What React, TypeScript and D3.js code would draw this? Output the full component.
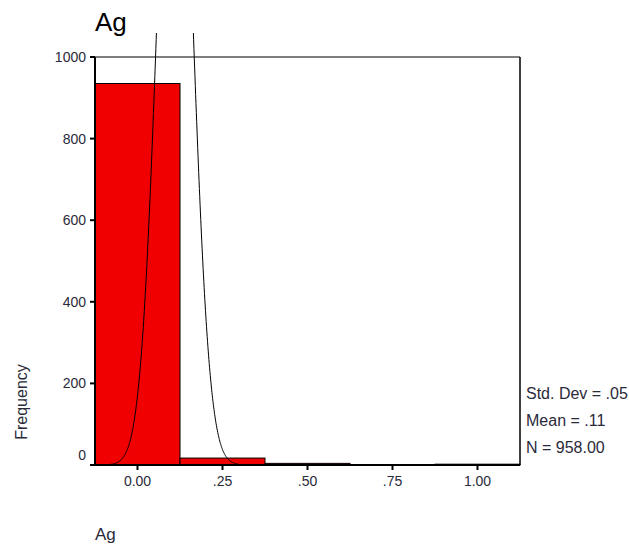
import React from "react";
import * as d3 from "d3";

// Histogram of Ag with fitted normal curve
const binCenters = [0, 0.25, 0.5, 0.75, 1.0];
const binCounts = [935, 17, 4, 0, 2];
const binWidth = 0.25;
const yTicks = [0, 200, 400, 600, 800, 1000];
const xTicks = [0, 0.25, 0.5, 0.75, 1.0];
const xTickLabels = ["0.00", ".25", ".50", ".75", "1.00"];
const stdDev = 0.05;
const mean = 0.11;
const nTotal = 958;
const statLines = ["Std. Dev = .05", "Mean = .11", "N = 958.00"];

const W = 629;
const H = 550;
const plot = { left: 95, right: 520, top: 57, bottom: 465 };

export default function App() {
  const x = d3.scaleLinear().domain([-0.125, 1.125]).range([plot.left, plot.right]);
  const y = d3.scaleLinear().domain([0, 1000]).range([plot.bottom, plot.top]);

  const peak = (nTotal * binWidth) / (stdDev * Math.sqrt(2 * Math.PI));
  const curvePts: [number, number][] = d3
    .range(-0.125, 1.1251, 0.001)
    .map((v) => [v, peak * Math.exp(-0.5 * ((v - mean) / stdDev) ** 2)]);
  const line = d3
    .line<[number, number]>()
    .x((d) => x(d[0]))
    .y((d) => y(d[1]));

  const font = "'Liberation Sans', Arial, sans-serif";
  const textColor = "#2a2a3a";

  return (
    <svg width={W} height={H} style={{ position: "absolute", left: 0, top: 0, background: "#fff" }}>
      <defs>
        <clipPath id="curveClip">
          <rect x={plot.left} y={33} width={plot.right - plot.left} height={plot.bottom - 33} />
        </clipPath>
      </defs>
      <rect x={0} y={0} width={W} height={H} fill="#fff" />
      <text x={95} y={31} fontFamily={font} fontSize={26} fill="#000">
        Ag
      </text>

      {binCenters.map((c, i) =>
        binCounts[i] > 0 ? (
          <rect
            key={i}
            x={x(c - binWidth / 2)}
            y={y(binCounts[i])}
            width={x(c + binWidth / 2) - x(c - binWidth / 2)}
            height={y(0) - y(binCounts[i])}
            fill="#f00000"
            stroke="#000"
            strokeWidth={1}
          />
        ) : null
      )}

      <path d={line(curvePts) || ""} fill="none" stroke="#000" strokeWidth={1} clipPath="url(#curveClip)" />

      {/* frame */}
      <line x1={plot.left} x2={plot.right} y1={plot.top} y2={plot.top} stroke="#000" strokeWidth={1.2} />
      <line x1={plot.right} x2={plot.right} y1={plot.top} y2={plot.bottom} stroke="#000" strokeWidth={1.5} />
      <line x1={plot.left} x2={plot.left} y1={plot.top} y2={plot.bottom} stroke="#000" strokeWidth={2} />
      <line x1={plot.left - 2} x2={plot.right} y1={plot.bottom} y2={plot.bottom} stroke="#000" strokeWidth={2} />

      {yTicks.map((t) => (
        <g key={t}>
          <line x1={plot.left - 5} x2={plot.left} y1={y(t)} y2={y(t)} stroke="#000" strokeWidth={2} />
          <text
            x={86}
            y={y(t) + (t === 0 ? -5 : 5)}
            textAnchor="end"
            fontFamily={font}
            fontSize={14}
            fill={textColor}
          >
            {t}
          </text>
        </g>
      ))}

      {xTicks.map((t, i) => (
        <g key={t}>
          <line x1={x(t)} x2={x(t)} y1={plot.bottom} y2={plot.bottom + 5} stroke="#000" strokeWidth={2} />
          <text x={x(t)} y={486} textAnchor="middle" fontFamily={font} fontSize={14} fill={textColor}>
            {xTickLabels[i]}
          </text>
        </g>
      ))}

      {statLines.map((s, i) => (
        <text key={s} x={526} y={399 + i * 27} fontFamily={font} fontSize={16} fill={textColor}>
          {s}
        </text>
      ))}

      <text
        transform={`translate(27, 402) rotate(-90)`}
        textAnchor="middle"
        fontFamily={font}
        fontSize={16}
        fill={textColor}
      >
        Frequency
      </text>
      <text x={95} y={540} fontFamily={font} fontSize={17} fill={textColor}>
        Ag
      </text>
    </svg>
  );
}
